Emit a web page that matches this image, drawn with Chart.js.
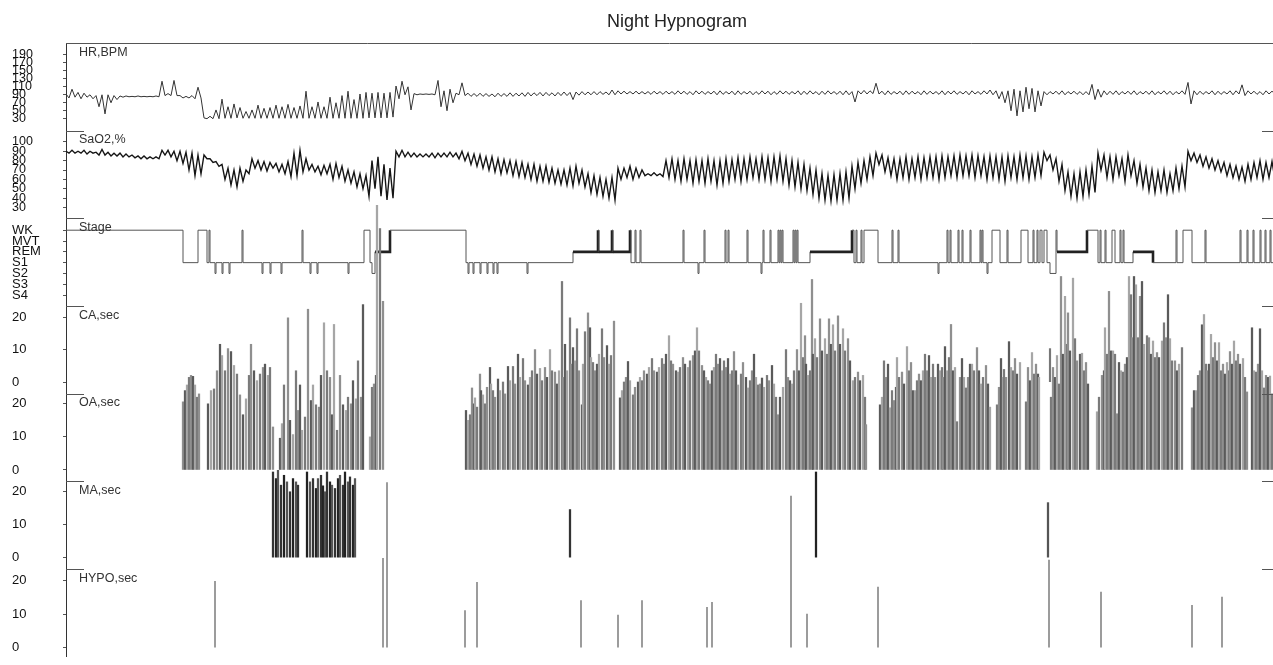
<!DOCTYPE html>
<html>
<head>
<meta charset="utf-8">
<title>Night Hypnogram</title>
<script src="https://cdn.jsdelivr.net/npm/chart.js@4.4.1/dist/chart.umd.min.js"></script>
<style>
  html, body { margin: 0; padding: 0; background: #fff; }
  #wrap { position: relative; width: 1273px; height: 665px; }
  #title { position: absolute; left: 607px; top: 11px; font: 18px "Liberation Sans", Arial, sans-serif; color: #222; }
  canvas { position: absolute; left: 0; top: 0; }
</style>
</head>
<body>
<div id="wrap">
  <canvas id="chart" width="1273" height="665"></canvas>
  <div id="title">Night Hypnogram</div>
</div>
<script>
// time axis in 30 s epochs, 0..1207
const EPOCHS = 1207;
const BIN = 6; // HR / SaO2 are given as hi/lo per 6 epochs

const hrTicks = [30, 50, 70, 90, 110, 130, 150, 170, 190];
const saTicks = [30, 40, 50, 60, 70, 80, 90, 100];
const stageNames = ['S4', 'S3', 'S2', 'S1', 'REM', 'MVT', 'WK'];
const secTicks = [0, 10, 20];

// heart rate, BPM
const hrHi = [
  92,104,96,94,90,88,90,90,88,87, 87,86,87,86,86,87,124,93,126,88,
  86,88,109,32,36,52,79,60,67,58, 48,52,64,56,58,64,60,66,58,62,
  99,60,72,60,84,70,88,99,78,92, 96,94,96,94,96,112,124,110,93,92,
  92,92,126,100,104,94,120,94,93,94, 93,92,94,93,95,94,95,96,95,96,
  96,95,96,97,96,97,98,97,98,98, 97,102,100,99,98,99,98,98,99,98,
  99,98,100,99,98,100,99,98,99,100, 98,99,100,98,99,98,100,99,98,100,
  99,98,100,99,100,98,99,100,98,99, 100,98,100,101,100,119,99,100,98,99,
  100,99,98,100,99,98,100,99,100,98, 99,100,98,100,102,100,98,100,104,100,
  109,106,100,98,98,99,100,98,99,98, 98,116,104,100,99,100,98,99,100,98,
  99,100,98,100,99,98,100,121,100,99, 98,100,99,98,100,100,115,100,99,98,
  100,99
];
const hrLo = [
  82,84,80,84,80,60,42,70,78,84, 85,85,85,85,85,85,88,88,88,82,
  82,80,82,30,30,30,31,31,32,31, 31,31,31,31,31,31,31,31,31,31,
  31,31,31,31,31,31,31,31,31,31, 32,32,32,32,34,80,90,52,90,91,
  91,90,60,50,70,90,88,86,86,86, 86,85,86,86,86,87,86,87,88,87,
  88,87,88,88,78,89,90,90,90,91, 90,90,92,92,92,92,92,91,92,91,
  92,91,92,91,90,92,91,92,90,91, 92,90,91,92,90,91,92,90,91,92,
  91,92,90,91,92,90,91,92,91,90, 90,72,92,92,93,92,90,91,92,90,
  91,92,90,91,92,91,90,92,91,92, 90,92,91,92,90,80,70,50,37,47,
  55,47,62,90,92,91,90,92,91,90, 90,78,84,90,91,90,92,91,90,92,
  91,90,92,91,90,92,91,67,90,91, 92,90,91,92,90,92,88,92,91,90,
  92,92
];

// oxygen saturation, %
const saHi = [
  90,91,90,91,90,89,92,89,88,88, 87,86,85,85,84,84,91,91,90,90,
  89,88,86,86,82,79,76,72,70,72, 70,82,80,79,78,77,76,79,88,91,
  82,76,74,75,76,77,74,70,68,66, 64,80,84,76,72,90,91,89,88,87,
  87,88,88,88,89,88,90,88,87,86, 84,84,82,81,80,79,78,76,76,74,
  74,72,70,70,72,74,70,66,64,62, 60,62,72,72,74,72,70,66,67,66,
  80,82,80,82,80,81,80,82,80,80, 82,81,83,82,84,82,84,83,84,85,
  82,80,78,76,72,70,66,64,65,66, 68,74,78,80,84,88,86,83,82,82,
  84,82,84,83,84,84,85,84,85,86, 85,86,85,84,85,84,84,85,84,86,
  85,84,86,89,86,82,76,68,66,68, 70,74,88,86,84,84,82,86,80,76,
  72,70,68,70,66,72,74,90,88,86, 84,82,80,78,76,74,73,76,78,80,
  78,79
];
const saLo = [
  88,88,88,87,88,86,86,85,85,84, 84,83,82,82,82,82,86,84,80,77,
  70,64,66,82,78,74,60,54,52,58, 66,72,70,69,72,68,66,63,64,68,
  70,68,65,66,60,62,58,56,52,50, 42,50,42,38,40,84,84,84,84,84,
  84,83,84,84,84,82,80,76,74,72, 70,68,66,67,64,63,62,60,58,58,
  57,56,55,54,53,56,52,46,44,42, 40,38,60,62,60,62,64,64,64,63,
  62,60,58,60,56,58,56,58,54,56, 58,60,58,60,62,60,60,58,60,58,
  54,52,50,48,44,40,38,37,38,38, 40,50,56,60,64,76,68,64,60,62,
  60,62,60,62,62,60,62,64,62,64, 64,62,64,60,62,60,58,62,60,62,
  60,62,64,80,70,58,48,42,40,42, 44,46,70,62,60,64,58,64,56,52,
  48,46,48,46,48,50,52,80,78,74, 72,70,68,64,62,60,58,60,62,60,
  62,60
];

// sleep stage from this epoch on: 6 WK, 5 MVT, 4 REM, 3 S1, 2 S2, 1 S3, 0 S4
const stageSteps = [
  [0,6],[117,3],[132,6],[141,3],[143,6],[144,3],
  [149,2],[150,3],[156,2],[157,3],[163,2],[164,3],[176,6],[177,3],
  [196,2],[197,3],[204,2],[205,3],[215,2],[216,3],[236,6],[237,3],
  [244,2],[245,3],[251,2],[252,3],[282,2],[283,3],
  [298,6],[304,3],[306,2],[309,4],[324,6],[400,3],
  [402,2],[403,3],[407,2],[408,3],[414,2],[415,3],[421,2],[422,3],[427,2],[428,3],[431,2],[432,3],
  [461,2],[462,3],
  [507,4],[532,6],[533,4],[546,6],[547,4],
  [564,6],[565,3],[569,6],[570,3],[574,6],[575,3],
  [617,6],[618,3],[632,2],[633,3],[638,6],[639,3],[659,6],[660,3],[662,6],[663,3],
  [681,6],[682,3],[695,2],[696,3],[697,6],[698,3],[704,6],[705,3],
  [712,6],[713,3],[714,6],[715,3],[716,6],[717,3],
  [727,6],[728,3],[729,6],[730,3],[731,6],[732,3],
  [744,4],[786,6],[788,3],[790,6],[791,3],[795,6],[796,3],[798,6],[812,3],
  [826,6],[827,3],[832,6],[833,3],[872,2],[873,3],
  [881,6],[882,3],[884,6],[885,3],[892,6],[893,3],[896,6],[897,3],[904,6],[905,3],
  [914,6],[915,3],[916,6],[917,3],[921,2],[922,3],
  [926,6],[934,3],[941,6],[942,3],[955,6],[962,3],
  [967,6],[968,3],[971,6],[972,3],[974,6],[976,3],[978,6],[981,3],
  [984,2],[990,6],[991,4],[1021,6],[1032,3],
  [1034,6],[1035,3],[1039,6],[1040,3],[1046,6],[1049,3],[1054,6],[1055,3],[1057,6],[1058,3],
  [1067,4],[1087,3],
  [1110,6],[1111,3],[1117,6],[1126,3],[1139,6],[1140,3],
  [1174,6],[1175,3],[1181,6],[1182,3],[1187,6],[1188,3],[1194,6],[1195,3],[1199,6],[1200,3],[1204,6],[1205,3],
  [1207,3]
];

// events: [epoch, duration in s]
const caEvents = [[984,10.3]];

const oaEvents = [
  [117,20.6],[119,24],[121,25.7],[123,28],[125,28.6],[127,28.3],[129,25.7],[131,22],[133,23],
  [142,20],[145,24],[148,24.5],[151,30],[154,38],[156,34.6],[159,30],[162,36.7],[165,35.8],[168,31.6],[171,29],[174,22.7],
  [177,16.7],[180,21.5],[183,28.6],[185,38],[188,30],[191,27],[194,29],[197,31],[199,32],[202,28.6],[204,31],[207,13],
  [214,9.6],[216,14],[218,25.7],[222,46],[224,15],[227,10.7],[230,30],[232,18],[234,25.7],[236,12],[239,16],[242,48.6],
  [245,21],[247,25.7],[250,19.7],[253,19],[255,28.6],[258,44.5],[261,30],[264,28],[266,16.7],[268,44],[271,12],[274,28.6],
  [277,19.7],[280,18],[282,22],[285,20],[287,27],[290,21.5],[292,33],[295,22],[297,50],
  [304,10],[306,25],[308,26],[310,28.6],[311,80],[314,73],[317,51],
  [400,18],[402,15],[404,16.7],[406,24.8],[408,20],[409,21.8],[411,19],[414,29],[415,24],[417,22.7],[419,20],[421,25],
  [424,31],[425,26],[427,24],[429,22],[432,27.5],[434,24],[437,26.6],[439,23],[442,31.3],[444,27],[447,31.3],[449,26],
  [452,35],[454,28],[457,33.7],[459,27],[462,25.7],[464,28],[466,30],[469,36.4],[471,29],[474,30.7],[476,27],[479,31],
  [481,28],[484,36.4],[486,30],[489,29.6],[491,26],[493,30],[496,57],[497,28],[499,38],[501,30],[504,46],[505,32],
  [507,37],[509,33],[511,42.7],[513,30],[516,19.7],[517,32],[519,41.8],[522,47.5],[524,43],[525,34],[527,32.5],[529,30],
  [531,32],[533,35],[536,42.7],[538,34],[541,37.6],[543,32],[545,34.6],[548,45],
  [554,21.8],[556,24],[558,26.6],[560,28],[562,32.8],[564,27],[567,22.7],[569,25],[572,26.6],[574,28],[576,27],[578,30],
  [581,29],[583,31],[586,33.7],[588,30],[591,29.6],[593,31],[596,33.7],[598,32],[600,35],[603,40.6],[605,33],[607,32],
  [610,30],[612,29.6],[614,31],[617,34],[619,32],[622,31],[624,33],[627,34.6],[629,36],[631,43],[633,36],[636,31.6],
  [638,30],[640,28],[642,27],[644,26],[646,30],[648,31],[650,35],[652,32],[654,33.7],[656,30],[658,33],[660,31],
  [662,33.7],[664,29],[666,30],[668,35.8],[670,30],[672,25.7],[675,29],[677,32.5],[680,28],[682,24.8],[684,27],[686,30],
  [688,35],[690,28],[692,25.7],[694,26],[696,27.8],[698,25],[701,28.6],[703,27],[706,31.6],[708,26],[710,22],[712,16.7],
  [714,22],[717,25],[720,36.4],[722,28],[724,27],[726,26],[728,30],[731,36.4],[733,30],[735,50.4],[737,34],[739,40.6],
  [740,32],[742,28.6],[744,30],[746,57.6],[747,35],[749,39.7],[751,34],[754,45.7],[756,36],[759,39.7],[761,35],[763,45.7],
  [765,38],[767,43.9],[769,36],[772,46.6],[774,38],[777,42.7],[779,36],[782,39.7],[784,33],[787,27],[789,28],[792,29.6],
  [794,27],[797,28.6],[799,22],[800,13.7],
  [814,19.7],[816,22],[818,33],[820,28],[822,32],[824,18.8],[826,24],[828,21],[830,25],[831,34],[833,28],[836,29.6],
  [838,26],[841,37.3],[843,30],[845,32.5],[847,24],[849,24],[851,27],[853,29],[855,27],[857,30],[859,35],[861,30],
  [863,34.6],[865,28],[867,32],[869,28],[872,32],[874,30],[876,31],[877,28],[879,37.3],[881,30],[883,34],[885,44],
  [887,30],[889,31],[891,14.6],[894,28],[896,33.7],[898,28],[900,24.8],[902,28],[904,32],[906,32],[908,30],[911,37],
  [913,30],[915,26],[917,28],[920,31.6],[922,26],[924,19],
  [931,19.7],[933,25],[935,33.7],[937,28],[938,30.4],[940,28],[943,38.8],[945,31],[947,30],[949,33.7],[951,29],[954,32.5],
  [960,20.6],[962,31],[964,27],[966,35.5],[968,29],[970,32],[972,29],[973,28],
  [985,22],[987,31],[989,28],[991,34.6],[993,26],[995,58.5],[997,35],[999,52.5],[1001,38],[1002,47.5],[1004,36],[1007,58],
  [1009,39.7],[1011,33],[1014,35],[1016,35.3],[1018,30],[1020,32.5],[1022,26],
  [1031,17.6],[1033,22],[1036,28.6],[1038,30],[1039,43],[1041,35],[1043,54],[1045,36],[1047,36],[1049,35],[1051,17],
  [1053,32.5],[1055,30],[1057,29.6],[1059,32],[1061,34],[1063,58.5],[1065,53],[1066,40],[1068,58.5],[1070,56],[1072,40],
  [1074,52.5],[1076,57],[1078,38],[1081,40.6],[1083,40],[1085,35],[1087,39],[1089,34],[1091,35.5],[1093,34],[1096,39],
  [1098,44.5],[1100,40],[1102,53],[1104,39.7],[1106,33],[1109,33],[1111,30],[1113,32],[1116,37],
  [1126,18.8],[1128,24],[1130,24],[1132,28.6],[1134,30],[1136,43.9],[1138,47],[1140,32],[1141,30],[1143,32],[1145,41],
  [1147,34],[1149,38.5],[1151,33],[1153,38.5],[1155,30],[1157,32],[1159,29],[1161,32.5],[1163,30],[1164,35.8],[1166,32],
  [1168,39],[1170,33],[1172,35],[1174,32],[1177,33.7],[1179,28],[1181,23.6],
  [1186,43],[1188,30],[1190,29.6],[1192,32],[1194,42.7],[1196,30],[1198,24.8],[1200,28.6],[1202,28],[1204,28.4],[1206,23]
];

const maEvents = [
  [207,26],[210,24],[212,26.5],[215,22],[218,25],[221,23],[224,20],[227,24],[230,23],[232,22],
  [241,26],[244,23],[247,24],[250,21],[252,24],[255,25],[257,21.8],[259,20],[261,26],[264,23],
  [266,22],[269,21],[272,24],[274,25],[277,22],[279,26],[282,23],[284,24.5],[287,22],[289,24],
  [504,14.6],[750,26],[982,16.7]
];

const hypoEvents = [
  [149,19.7],[317,26.5],[321,49],[399,11],[411,19.4],[515,14],[552,9.7],[576,14],[641,12],
  [646,13.5],[725,45],[741,10],[812,18],[983,26],[1035,16.5],[1126,12.6],[1156,15]
];

const panelNames = {
  yHR: 'HR,BPM', ySa: 'SaO2,%', ySt: 'Stage', yCA: 'CA,sec',
  yOA: 'OA,sec', yMA: 'MA,sec', yHy: 'HYPO,sec'
};

const FONT = '"Liberation Sans", Arial, sans-serif';

function envelope(hi, lo) {
  const pts = [];
  hi.forEach((v, i) => {
    pts.push({x: i * BIN, y: v});
    pts.push({x: i * BIN + BIN / 2, y: lo[i]});
  });
  return pts;
}
const events = list => list.map(([t, v]) => ({x: t, y: v}));

function panel(weight, min, max, tickVals, size, fmt) {
  return {
    type: 'linear', position: 'left', stack: 'night', stackWeight: 1, weight,
    min, max, offset: false,
    border: {display: true, color: '#333', width: 1},
    grid: {drawOnChartArea: false, drawTicks: true, tickLength: 3, color: '#555'},
    ticks: {
      autoSkip: false, crossAlign: 'far', color: '#111', padding: 2,
      font: {family: FONT, size, lineHeight: 1},
      callback: fmt || (v => v)
    },
    afterBuildTicks: s => { s.ticks = tickVals.map(v => ({value: v})); },
    afterFit: s => { s.width = 54; }
  };
}

function bars(label, axis, list, colors, thick) {
  return {
    type: 'bar', label, yAxisID: axis, data: events(list),
    barThickness: thick, grouped: false, clip: false, borderWidth: 0,
    backgroundColor: c => colors[c.dataIndex % colors.length]
  };
}

// panel captions, tabs and the frame line along the top
const panelLabels = {
  id: 'panelLabels',
  afterDraw(chart) {
    const {ctx, chartArea} = chart;
    ctx.save();
    ctx.strokeStyle = '#555';
    ctx.lineWidth = 1;
    ctx.fillStyle = '#333';
    ctx.font = '12.5px ' + FONT;
    ctx.textBaseline = 'top';
    Object.keys(panelNames).forEach((id, k) => {
      const s = chart.scales[id];
      const y = Math.round(s.top) + 0.5;
      ctx.beginPath();
      if (k === 0) {
        ctx.moveTo(chartArea.left, y); ctx.lineTo(chartArea.right, y);
      } else {
        ctx.moveTo(chartArea.left, y); ctx.lineTo(chartArea.left + 18, y);
        ctx.moveTo(chartArea.right - 11, y); ctx.lineTo(chartArea.right, y);
      }
      ctx.stroke();
      ctx.fillText(panelNames[id], chartArea.left + 13, s.top + 3);
    });
    ctx.restore();
  }
};

new Chart(document.getElementById('chart'), {
  type: 'line',
  data: {
    datasets: [
      bars('CA', 'yCA', caEvents, ['#777'], 1.5),
      bars('OA', 'yOA', oaEvents, ['#8f8f8f', '#5a5a5a', '#a6a6a6', '#7a7a7a'], 1.6),
      bars('MA', 'yMA', maEvents, ['#333', '#222', '#555'], 1.6),
      bars('HYPO', 'yHy', hypoEvents, ['#888'], 1),
      {
        label: 'HR', yAxisID: 'yHR', data: envelope(hrHi, hrLo),
        borderColor: '#333', borderWidth: 1, pointRadius: 0, clip: false
      },
      {
        label: 'SaO2', yAxisID: 'ySa', data: envelope(saHi, saLo),
        borderColor: '#151515', borderWidth: 1.4, pointRadius: 0, clip: false
      },
      {
        label: 'Stage', yAxisID: 'ySt', data: events(stageSteps),
        stepped: 'before', borderColor: '#555', borderWidth: 1, pointRadius: 0,
        segment: {
          borderWidth: c => c.p0.parsed.y === 4 ? 2.6 : 1,
          borderColor: c => c.p0.parsed.y === 4 ? '#222' : '#555'
        }
      }
    ]
  },
  options: {
    responsive: false,
    animation: false,
    devicePixelRatio: 1,
    layout: {padding: {top: 43, left: 12, right: 0, bottom: 0}},
    plugins: {legend: {display: false}, tooltip: {enabled: false}, title: {display: false}},
    scales: {
      x: {type: 'linear', min: 0, max: EPOCHS, offset: false, display: false, grid: {offset: false}},
      yHR: panel(7, 0, 220, hrTicks, 12.5),
      ySa: panel(6, 18.5, 112, saTicks, 12.5),
      ySt: panel(5, -1, 7.1, [0, 1, 2, 3, 4, 5, 6], 13, v => stageNames[v]),
      yCA: panel(4, -3.5, 23.4, secTicks, 13),
      yOA: panel(3, -3.4, 23.1, secTicks, 13),
      yMA: panel(2, -3.4, 23.2, secTicks, 13),
      yHy: panel(1, -2.6, 23.4, secTicks, 13)
    }
  },
  plugins: [panelLabels]
});
</script>
</body>
</html>
